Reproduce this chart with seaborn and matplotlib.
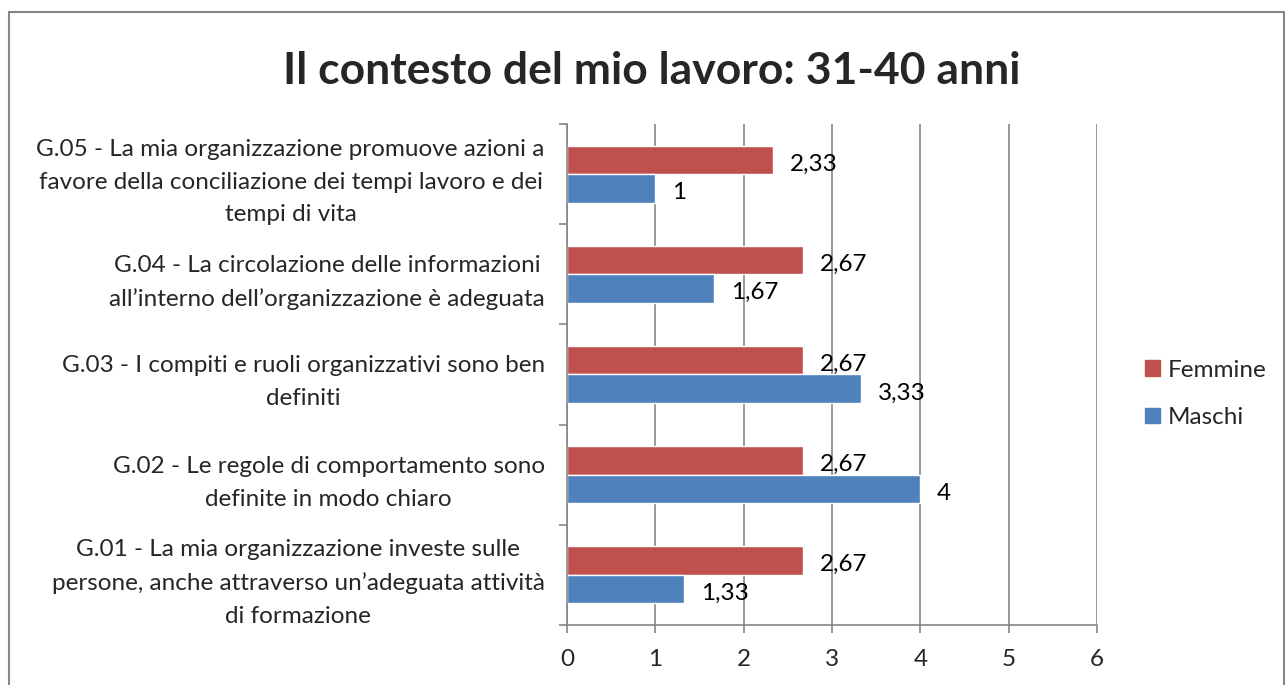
import matplotlib.pyplot as plt
import matplotlib.patches as mpatches
import pandas as pd
import seaborn as sns

# data
categories = [
    "G.05 - La mia organizzazione promuove azioni a\nfavore della conciliazione dei tempi lavoro e dei\ntempi di vita",
    "G.04 - La circolazione delle informazioni\nall\u2019interno dell\u2019organizzazione è adeguata",
    "G.03 - I compiti e ruoli organizzativi sono ben\ndefiniti",
    "G.02 - Le regole di comportamento sono\ndefinite in modo chiaro",
    "G.01 - La mia organizzazione investe sulle\npersone, anche attraverso un\u2019adeguata attività\ndi formazione",
]
femmine = [2.33, 2.67, 2.67, 2.67, 2.67]
maschi = [1, 1.67, 3.33, 4, 1.33]
series = ["Femmine", "Maschi"]
colors = ["#C0504D", "#4F81BD"]
x_ticks = [0, 1, 2, 3, 4, 5, 6]

df = pd.DataFrame({
    "cat": categories * 2,
    "val": femmine + maschi,
    "serie": ["Femmine"] * len(categories) + ["Maschi"] * len(categories),
})

sns.set_style("white")
plt.rcParams["font.family"] = ["Lato", "DejaVu Sans"]
fs = 17.5

fig = plt.figure(figsize=(12.85, 6.85), dpi=100)
ax = fig.add_axes([0.4412, 0.0876, 0.4125, 0.7314])

sns.barplot(data=df, y="cat", x="val", hue="serie", hue_order=series,
            order=categories, palette=colors, width=0.57, orient="h",
            saturation=1, ax=ax, legend=False)

# value labels with comma decimals, sitting slightly below bar centre
for cont in ax.containers:
    labels = [("%g" % round(b.get_width(), 2)).replace(".", ",") for b in cont]
    anns = ax.bar_label(cont, labels=labels, padding=12, fontsize=fs, color="black")
    for a in anns:
        a.xyann = (12, -3)

ax.set_xlim(0, 6)
ax.set_ylim(len(categories) - 0.5, -0.5)
ax.set_xticks(x_ticks)
ax.set_xticklabels([str(t) for t in x_ticks], fontsize=fs)
ax.tick_params(axis="x", length=6, color="#868686", width=1.2, pad=11, bottom=True)
ax.tick_params(axis="y", length=0, pad=16, labelsize=fs)
for t in ax.get_yticklabels():
    t.set_multialignment("center")
    t.set_linespacing(1.7)

# group separator ticks on the y axis
ax.set_yticks([i - 0.5 for i in range(len(categories) + 1)], minor=True)
ax.tick_params(axis="y", which="minor", length=6, color="#868686", width=1.2, left=True)

ax.grid(axis="x", color="#868686", linewidth=1.2)
ax.set_axisbelow(True)
for s in ["top", "right"]:
    ax.spines[s].set_visible(False)
for s in ["left", "bottom"]:
    ax.spines[s].set_color("#868686")
    ax.spines[s].set_linewidth(1.2)
ax.set_xlabel("")
ax.set_ylabel("")

handles = [mpatches.Patch(color=c, label=s) for c, s in zip(colors, series)]
fig.legend(handles=handles, loc="center left", bbox_to_anchor=(0.891, 0.425),
           frameon=False, fontsize=fs, handlelength=0.6, handleheight=0.6,
           handletextpad=0.35, labelspacing=1.1, borderpad=0, borderaxespad=0)

fig.suptitle("Il contesto del mio lavoro: 31-40 anni", x=0.507, y=0.925,
             fontsize=32, fontweight="bold")

# outer chart border
fig.patches.append(mpatches.Rectangle((8.5 / 1285, -0.05), 1275 / 1285, 1.05 - 12.5 / 685,
                                      transform=fig.transFigure, fill=False,
                                      edgecolor="#868686", linewidth=1.5))

fig.savefig("out.png", dpi=100)
